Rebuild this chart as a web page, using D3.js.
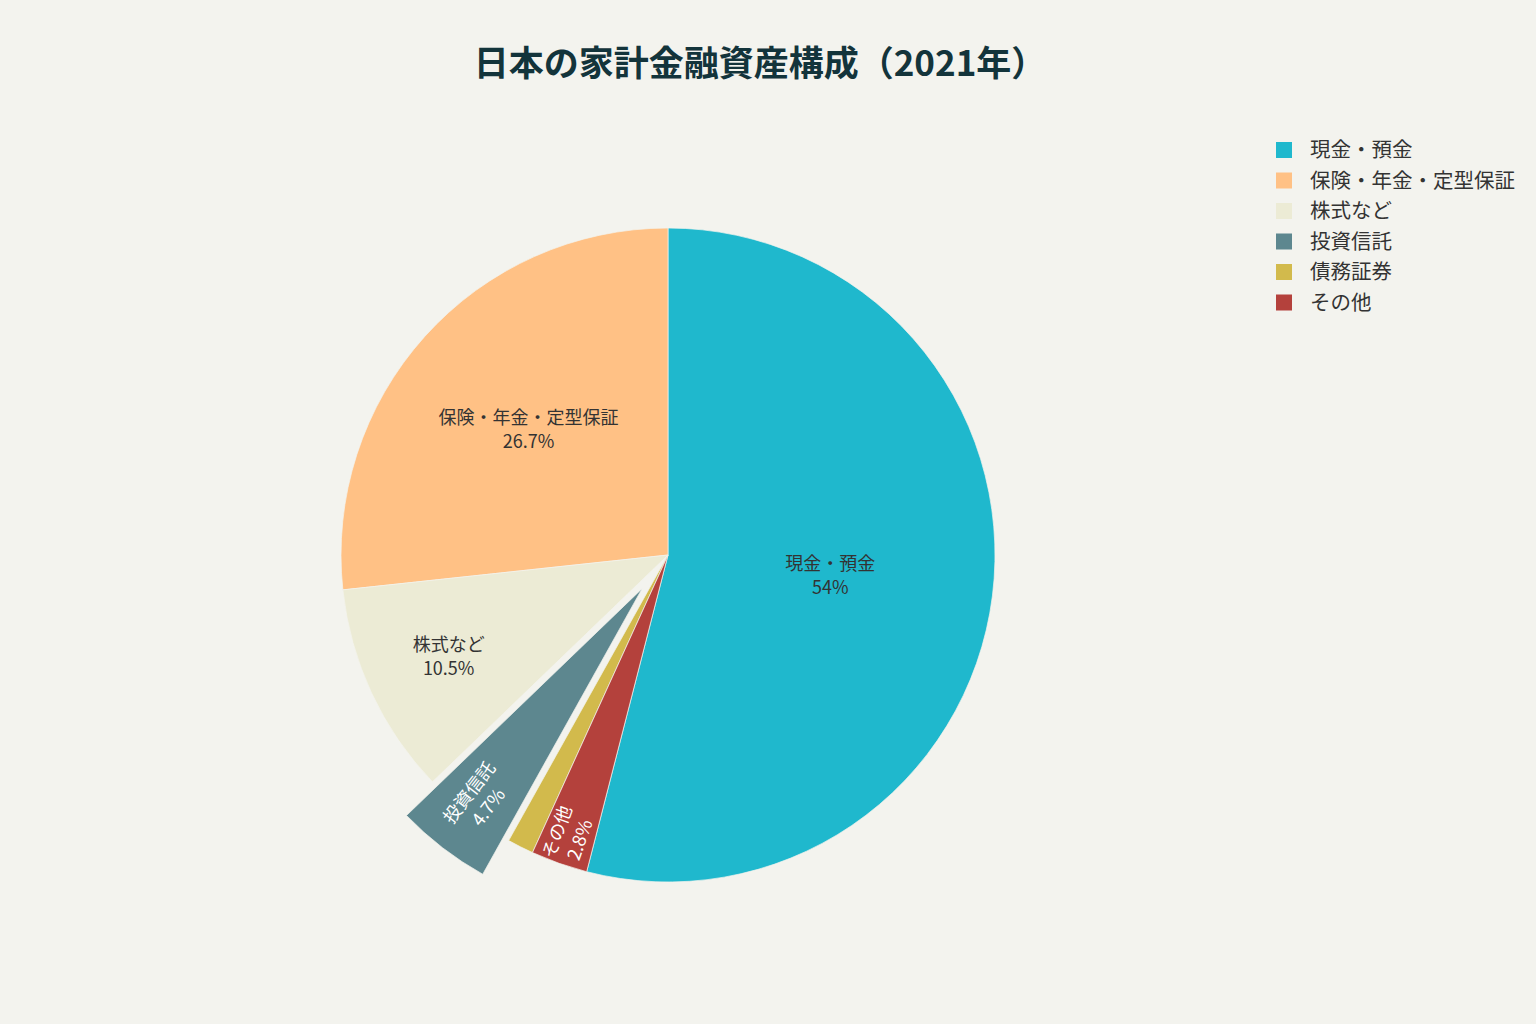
<!DOCTYPE html>
<html>
<head>
<meta charset="utf-8">
<script src="https://cdn.jsdelivr.net/npm/d3@7"></script>
<style>
  html, body { margin: 0; padding: 0; background: #f3f3ee; }
  svg { display: block; font-family: "Noto Sans CJK JP", "Noto Sans", sans-serif; }
</style>
</head>
<body>
<svg id="chart" width="1536" height="1024"></svg>
<script>
var categories = ["現金・預金", "保険・年金・定型保証", "株式など", "投資信託", "債務証券", "その他"];
var shares = [54, 26.7, 10.5, 4.7, 1.3, 2.8];
var shareLabels = ["54%", "26.7%", "10.5%", "4.7%", "", "2.8%"];
var pulled = ["投資信託"];
var colors = ["#1fb8cd", "#ffc185", "#ecebd5", "#5d878f", "#d2ba4c", "#b4413c"];

var width = 1536, height = 1024;
var cx = 668, cy = 555, radius = 327;
var pullDist = radius * 0.13;

var svg = d3.select("#chart");

svg.append("rect")
    .attr("width", width)
    .attr("height", height)
    .attr("fill", "#f3f3ee");

svg.append("text")
    .attr("x", 760)
    .attr("y", 76)
    .attr("text-anchor", "middle")
    .attr("font-size", 35)
    .attr("font-weight", "bold")
    .attr("fill", "#13343b")
    .text("日本の家計金融資産構成（2021年）");

var data = categories.map(function(c, i) {
    return {name: c, value: shares[i], label: shareLabels[i], color: colors[i]};
});

// first slice ends at 12 o'clock, the rest run counter-clockwise
var total = d3.sum(shares);
var start = 2 * Math.PI * shares[0] / total;
var pie = d3.pie()
    .sort(null)
    .value(function(d) { return d.value; })
    .startAngle(start)
    .endAngle(start - 2 * Math.PI);

var arcs = pie(data);

var arc = d3.arc().innerRadius(0).outerRadius(radius);

function midAngle(d) { return (d.startAngle + d.endAngle) / 2; }
function offset(d) {
    if (pulled.indexOf(d.data.name) < 0) return [0, 0];
    var a = midAngle(d);
    return [Math.sin(a) * pullDist, -Math.cos(a) * pullDist];
}

var g = svg.append("g").attr("transform", "translate(" + cx + "," + cy + ")");

g.selectAll("path")
    .data(arcs)
    .enter()
    .append("path")
    .attr("d", arc)
    .attr("transform", function(d) {
        var o = offset(d);
        return "translate(" + o[0] + "," + o[1] + ")";
    })
    .attr("fill", function(d) { return d.data.color; })
    .attr("stroke", "#f3f3ee")
    .attr("stroke-width", 0.7);

// label radius shrinks as the slice gets wider
var labelR = d3.scaleLinear().domain([0.6, 1.7, 3.4]).range([0.75, 0.57, 0.5]).clamp(true);
var fontSize = 18;

var labels = g.selectAll("g.label")
    .data(arcs.filter(function(d) { return d.data.label !== ""; }))
    .enter()
    .append("g")
    .attr("class", "label");

labels.each(function(d) {
    var el = d3.select(this);
    var span = Math.abs(d.endAngle - d.startAngle);
    var a = midAngle(d);
    var o = offset(d);
    var dark = d.data.color === "#5d878f" || d.data.color === "#b4413c";
    var fill = dark ? "#ffffff" : "#333333";
    var rotated = span < 0.4;
    var r, rot = 0;
    if (rotated) {
        var half = d.data.name.length * fontSize / 2;
        r = radius - half - (span > 0.25 ? 24 : 2);
        rot = Math.atan2(-Math.cos(a), Math.sin(a)) * 180 / Math.PI + 180;
    } else {
        r = radius * labelR(span);
    }
    var x = o[0] + Math.sin(a) * r;
    var y = o[1] - Math.cos(a) * r;
    el.attr("transform", "translate(" + x + "," + y + ") rotate(" + rot + ")");
    var t = el.append("text")
        .attr("text-anchor", "middle")
        .attr("font-size", fontSize)
        .attr("fill", fill);
    t.append("tspan").attr("x", 0).attr("y", -6).text(d.data.name);
    t.append("tspan").attr("x", 0).attr("y", 18).text(d.data.label);
});

// legend
var legend = svg.append("g").attr("transform", "translate(1276,150)");
var item = legend.selectAll("g")
    .data(data)
    .enter()
    .append("g")
    .attr("transform", function(d, i) { return "translate(0," + (i * 30.5) + ")"; });

item.append("rect")
    .attr("x", 0)
    .attr("y", -8)
    .attr("width", 16)
    .attr("height", 16)
    .attr("fill", function(d) { return d.color; });

item.append("text")
    .attr("x", 34)
    .attr("y", 7)
    .attr("font-size", 20.5)
    .attr("fill", "#333333")
    .text(function(d) { return d.name; });
</script>
</body>
</html>
